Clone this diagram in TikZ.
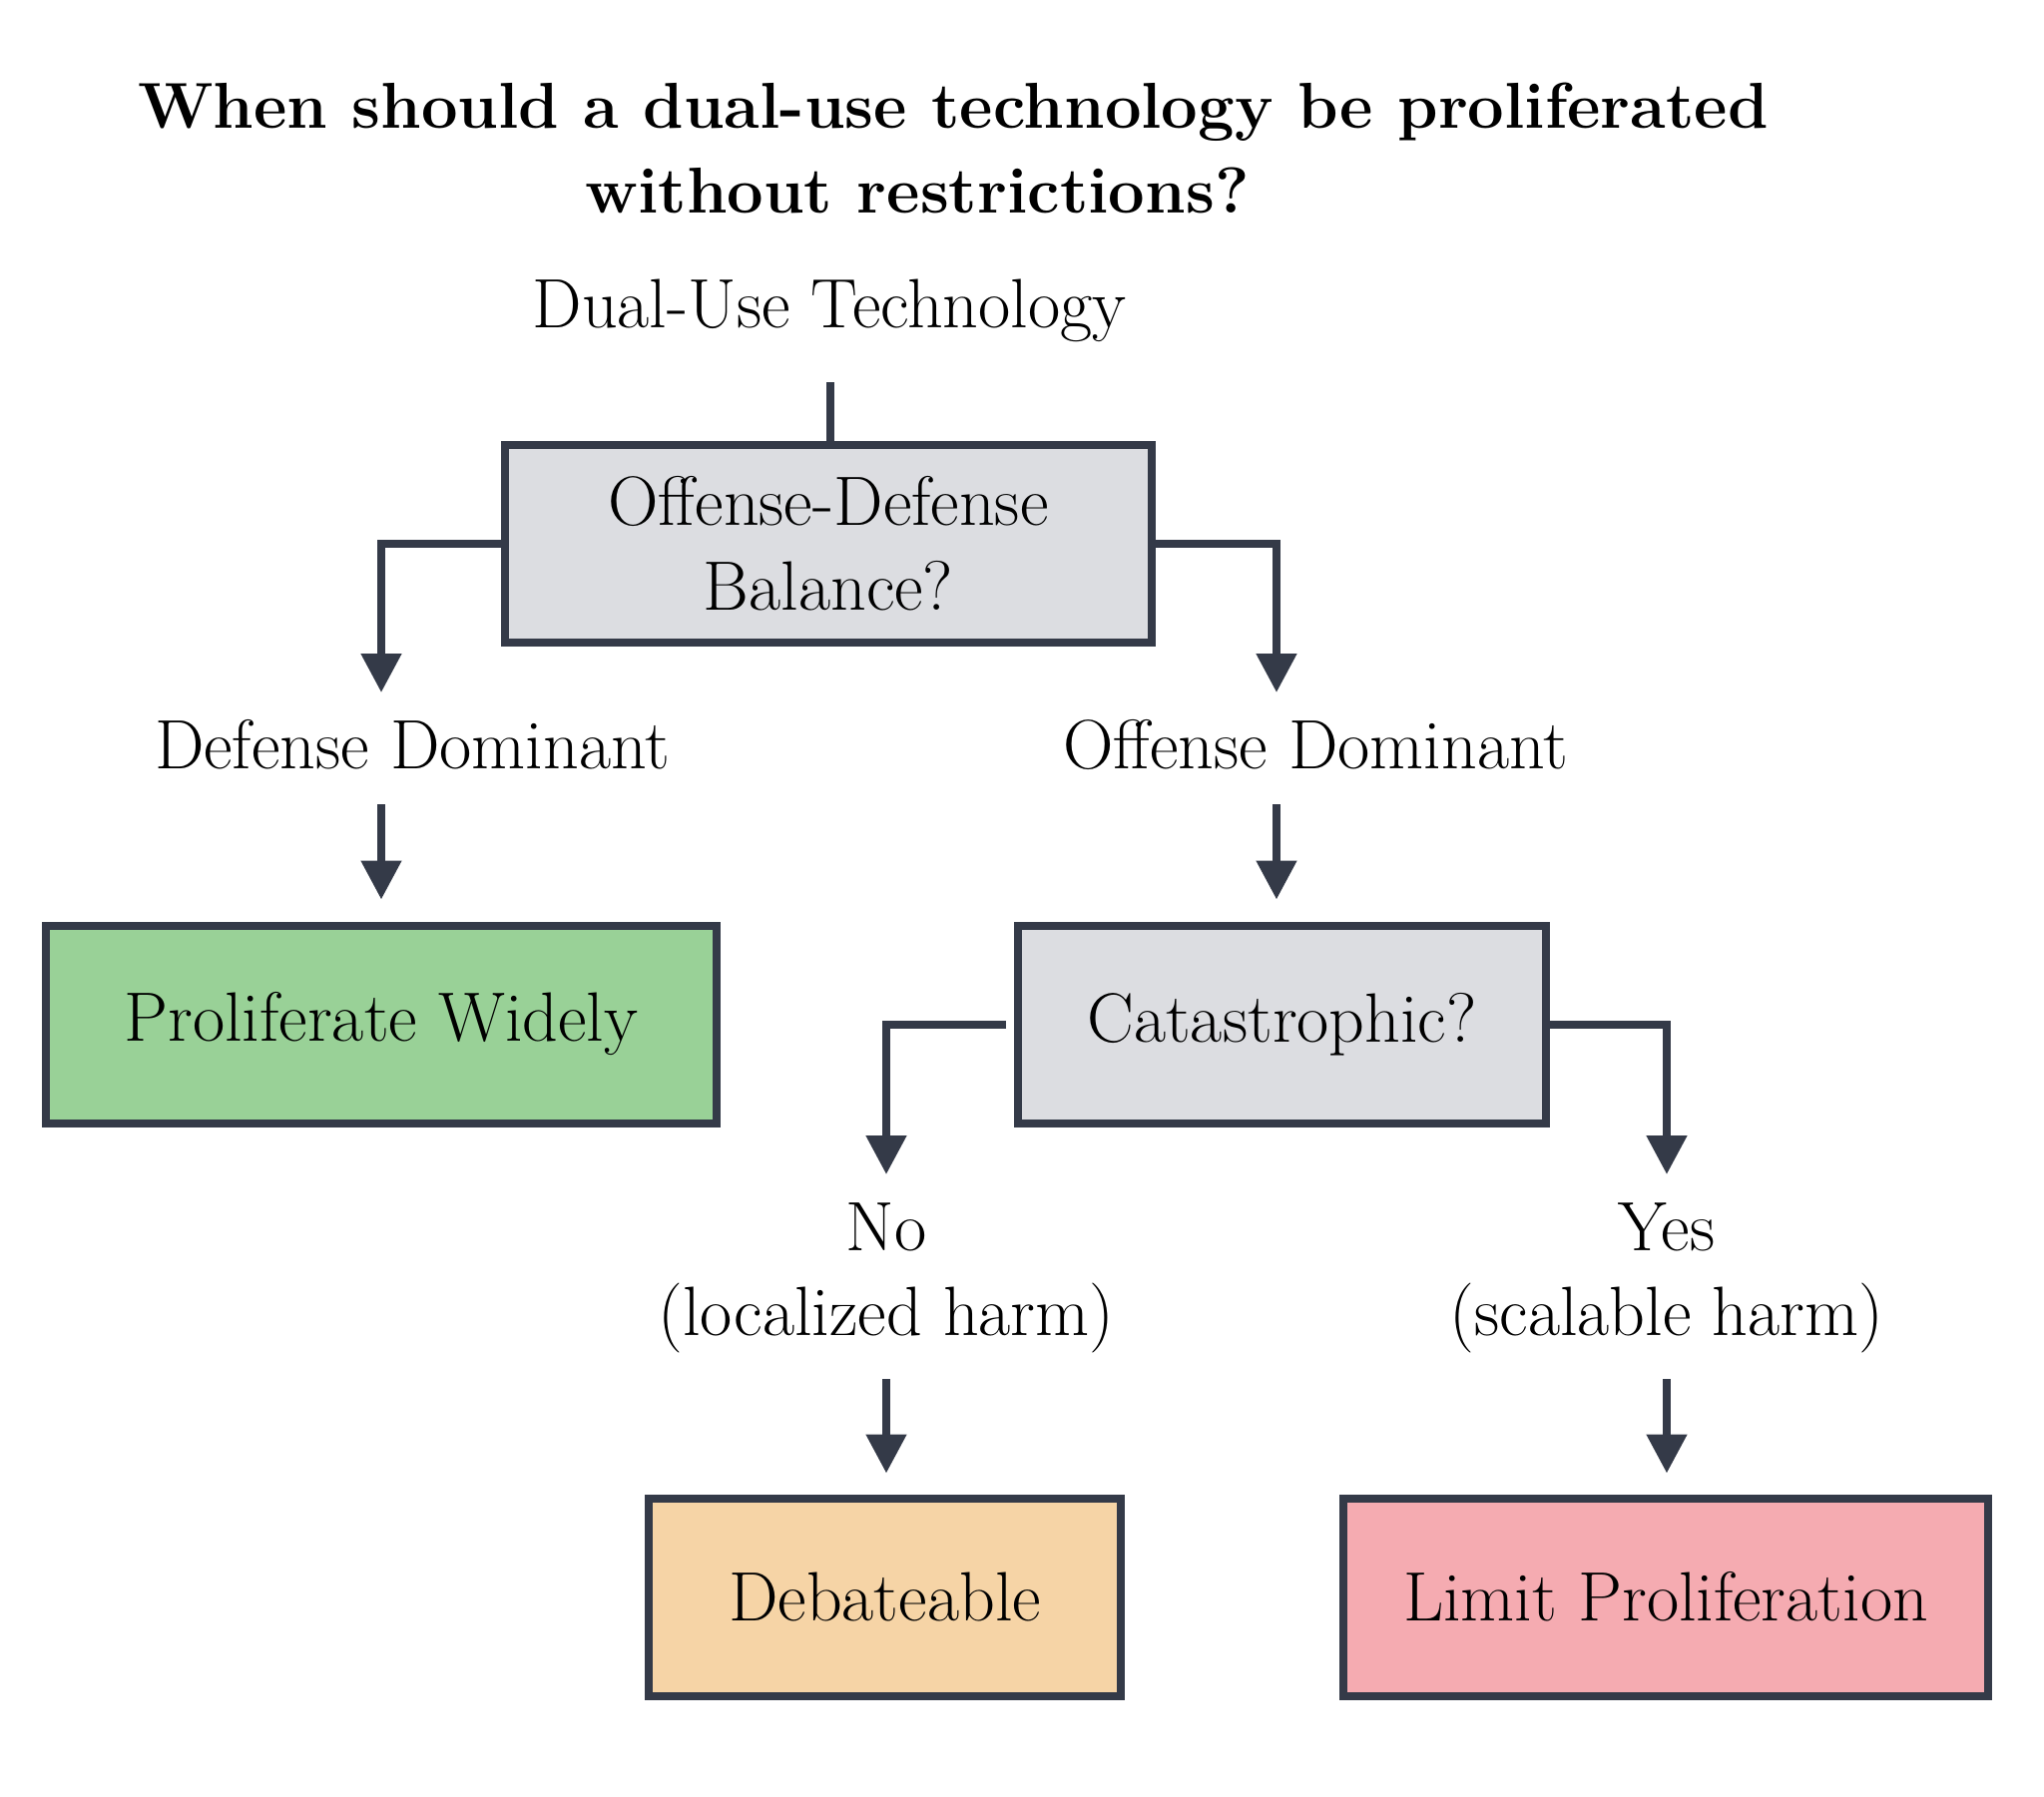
\documentclass[tikz,border=0pt]{standalone}
\usepackage{fontspec}
\usetikzlibrary{arrows.meta}
\definecolor{edgec}{RGB}{52,58,72}
\definecolor{qgray}{RGB}{220,221,225}
\definecolor{okgreen}{RGB}{153,209,151}
\definecolor{midorange}{RGB}{246,212,166}
\definecolor{badpink}{RGB}{245,171,177}
\begin{document}
\begin{tikzpicture}[x=1pt,y=-1pt,
  box/.style={draw=edgec, line width=8pt, minimum height=198pt, inner sep=0pt,
    font=\fontsize{70}{85}\selectfont, align=center},
  lbl/.style={font=\fontsize{70}{85}\selectfont, align=center, inner sep=0pt},
  ttl/.style={font=\fontsize{65}{85}\selectfont\bfseries, inner sep=0pt, anchor=base},
  conn/.style={draw=edgec, line width=8pt},
  arr/.style={conn, -{Triangle[width=39pt,length=39pt]}},
]
\useasboundingbox (0,0) rectangle (2048,1800);

% title
\node[ttl] (t1) at (955,128) {When should a dual-use technology be proliferated};
\node[ttl] (t2) at (919,213) {without restrictions?};

% nodes
\node[lbl, anchor=base] (dut) at (831,328) {Dual-Use Technology};
\node[box, fill=qgray, minimum width=648pt] (q1) at (830,544.5) {Offense-Defense\\Balance?};
\node[lbl, anchor=base] (dd) at (413,770) {Defense Dominant};
\node[lbl, anchor=base] (od) at (1318,770) {Offense Dominant};
\node[box, fill=okgreen, minimum width=672pt] (pw) at (382,1026.5) {Proliferate Widely};
\node[box, fill=qgray, minimum width=529pt] (cat) at (1284.5,1026.5) {Catastrophic?};
\node[lbl] (no) at (888,1281) {No\\(localized harm)};
\node[lbl] (yes) at (1670,1281) {Yes\\(scalable harm)};
\node[box, fill=midorange, minimum width=473pt] (deb) at (886.5,1600.5) {Debateable};
\node[box, fill=badpink, minimum width=646pt] (lim) at (1669,1600.5) {Limit Proliferation};

% coordinates
\coordinate (stem) at (832,383);
\coordinate (tipdd) at (382,694);
\coordinate (tipod) at (1279,694);
\coordinate (ddout) at (382,806);
\coordinate (odout) at (1279,806);
\coordinate (tipno) at (888,1177);
\coordinate (tipyes) at (1670,1177);
\coordinate (noout) at (888,1382);
\coordinate (yesout) at (1670,1382);

% connectors
\draw[conn] (stem) -- (stem |- q1.north);
\draw[arr] (q1.west) -| (tipdd);
\draw[arr] (q1.east) -| (tipod);
\draw[arr, shorten >=22pt] (ddout) -- (ddout |- pw.north);
\draw[arr, shorten >=22pt] (odout) -- (odout |- cat.north);
\draw[arr] ([xshift=-8pt]cat.west) -| (tipno);
\draw[arr] (cat.east) -| (tipyes);
\draw[arr, shorten >=21pt] (noout) -- (noout |- deb.north);
\draw[arr, shorten >=21pt] (yesout) -- (yesout |- lim.north);
\end{tikzpicture}
\end{document}
